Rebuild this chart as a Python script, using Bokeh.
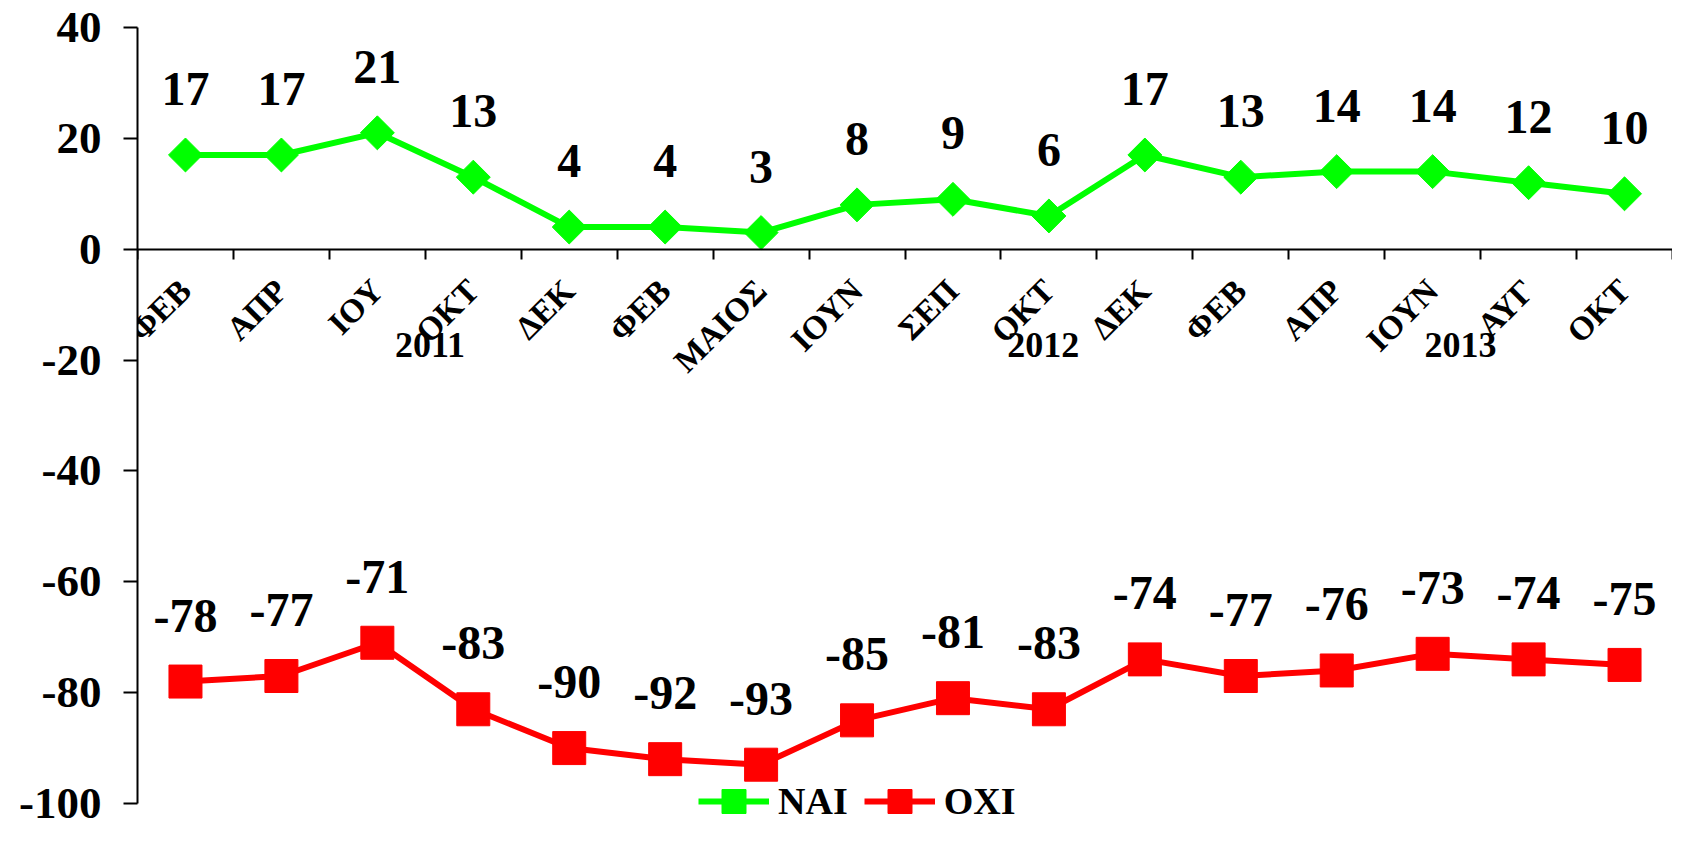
import math
from bokeh.plotting import figure
from bokeh.models import (LinearAxis, FixedTicker, Range1d, Legend, LegendItem,
                          ColumnDataSource)
from bokeh.core.properties import value
from bokeh.embed import file_html
from bokeh.resources import INLINE

# ---- data ----
categories = ["ΦΕΒ", "ΑΠΡ", "ΙΟΥ", "ΟΚΤ", "ΔΕΚ", "ΦΕΒ", "ΜΑΙΟΣ", "ΙΟΥΝ",
              "ΣΕΠ", "ΟΚΤ", "ΔΕΚ", "ΦΕΒ", "ΑΠΡ", "ΙΟΥΝ", "ΑΥΓ", "ΟΚΤ"]
nai = [17, 17, 21, 13, 4, 4, 3, 8, 9, 6, 17, 13, 14, 14, 12, 10]
oxi = [-78, -77, -71, -83, -90, -92, -93, -85, -81, -83, -74, -77, -76, -73, -74, -75]
years = ["2011", "2012", "2013"]
y_ticks = [-100, -80, -60, -40, -20, 0, 20, 40]

# ---- layout ----
W, H = 1672, 830
TOP, Y100 = 27, 803          # pixel rows of y=40 and y=-100 inside the figure
Y_MIN, Y_MAX = -100, 40
ppu = (Y100 - TOP) / (Y_MAX - Y_MIN)
y_start = Y_MIN - (H - Y100) / ppu

n = len(categories)
xc = [i + 0.5 for i in range(n)]
year_x = [3.05, 9.44, 13.79]
FONT = value("Liberation Serif")

src = ColumnDataSource(dict(x=xc, nai=nai, oxi=oxi,
                            nai_t=[str(v) for v in nai],
                            oxi_t=[str(v) for v in oxi]))

p = figure(width=W, height=H, output_backend="svg", toolbar_location=None,
           x_range=Range1d(0, n), y_range=Range1d(y_start, Y_MAX),
           x_axis_type=None,
           min_border_left=137, min_border_right=0,
           min_border_top=TOP, min_border_bottom=0)
p.outline_line_color = None
p.ygrid.visible = False
p.background_fill_color = "white"

# y axis
ya = p.yaxis[0]
ya.ticker = FixedTicker(ticks=y_ticks)
ya.bounds = (Y_MIN, Y_MAX)
ya.major_label_overrides = {t: str(t) for t in y_ticks}
ya.major_tick_out = 14
ya.major_tick_in = 0
ya.minor_tick_out = 0
ya.minor_tick_in = 0
ya.axis_line_width = 2
ya.major_tick_line_width = 2
ya.axis_line_color = "black"
ya.major_tick_line_color = "black"
ya.major_label_text_font = "Liberation Serif"
ya.major_label_text_font_style = "bold"
ya.major_label_text_font_size = "45px"
ya.major_label_text_color = "black"
ya.major_label_standoff = 22

# x axis at y=0 : ticks at category boundaries
ax_ticks = LinearAxis(fixed_location=0,
                      ticker=FixedTicker(ticks=list(range(n + 1))),
                      major_label_text_color=None,
                      major_tick_out=10, major_tick_in=0,
                      minor_tick_out=0, minor_tick_in=0,
                      axis_line_width=2, major_tick_line_width=2,
                      axis_line_color="black", major_tick_line_color="black")
p.add_layout(ax_ticks, "below")

# x axis labels at category centres
ax_labels = LinearAxis(fixed_location=0,
                       ticker=FixedTicker(ticks=xc),
                       major_label_overrides={x: c for x, c in zip(xc, categories)},
                       axis_line_color=None, major_tick_line_color=None,
                       minor_tick_line_color=None,
                       major_tick_out=0, major_tick_in=0,
                       major_label_orientation=math.pi / 4,
                       major_label_standoff=36,
                       major_label_text_font="Liberation Serif",
                       major_label_text_font_style="bold",
                       major_label_text_font_size="33px",
                       major_label_text_color="black")
p.add_layout(ax_labels, "below")

# series
GREEN = "#00ff00"
RED = "#ff0000"
ln_g = p.line("x", "nai", source=src, line_color=GREEN, line_width=6)
sc_g = p.scatter("x", "nai", source=src, marker="square", angle=math.pi / 4,
                 size=24, fill_color=GREEN, line_color=GREEN)
ln_r = p.line("x", "oxi", source=src, line_color=RED, line_width=6)
sc_r = p.scatter("x", "oxi", source=src, marker="square", size=33,
                 fill_color=RED, line_color=RED)

# data labels
for col, ycol in (("nai_t", "nai"), ("oxi_t", "oxi")):
    p.text("x", ycol, text=col, source=src, y_offset=-66,
           text_align="center", text_baseline="middle",
           text_font=FONT, text_font_style="bold", text_font_size="48px",
           text_color="black")

# year labels
p.text(x=year_x, y=[0] * len(years), text=years, y_offset=96,
       text_align="center", text_baseline="middle",
       text_font=FONT, text_font_style="bold", text_font_size="36px",
       text_color="black")

legend = Legend(items=[LegendItem(label="ΝΑΙ", renderers=[ln_g, sc_g]),
                       LegendItem(label="ΟΧΙ", renderers=[ln_r, sc_r])],
                orientation="horizontal", location=(561, -1),
                glyph_width=71, glyph_height=60, label_height=60,
                label_standoff=9, spacing=16, padding=0, margin=0,
                border_line_color=None, background_fill_alpha=0,
                label_text_font="Liberation Serif", label_text_font_style="bold",
                label_text_font_size="38px", label_text_color="black")
p.add_layout(legend)

open("out.html", "w").write(file_html(p, INLINE))
